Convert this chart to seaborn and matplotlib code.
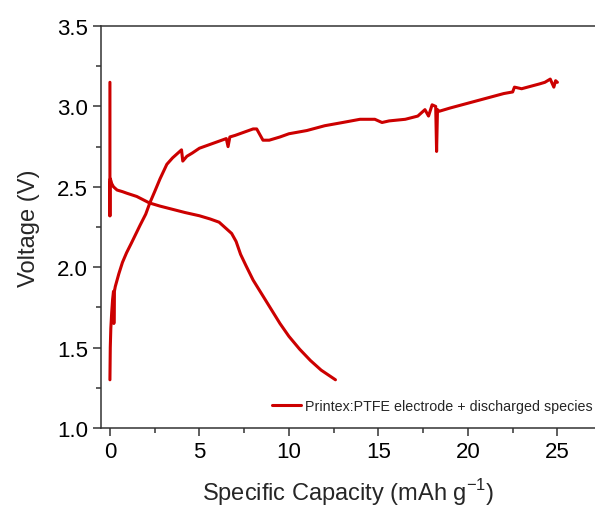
import seaborn as sns
import numpy as np
import pandas as pd
import matplotlib.pyplot as plt
from matplotlib.ticker import MultipleLocator

# discharge curve
discharge_cap = [0.0, 0.0, 0.0, 0.02, 0.05, 0.1, 0.2, 0.4, 0.7, 0.95, 1.5, 2.2, 2.8, 3.5,
                 4.2, 5.0, 5.6, 6.1, 6.5, 6.8, 7.05, 7.3, 7.6, 8.0, 8.5, 9.0, 9.5,
                 10.0, 10.6, 11.2, 11.8, 12.6]
discharge_v = [3.15, 2.32, 2.50, 2.55, 2.54, 2.52, 2.50, 2.48, 2.47, 2.46, 2.44, 2.40, 2.38, 2.36,
               2.34, 2.32, 2.30, 2.28, 2.24, 2.21, 2.16, 2.08, 2.01, 1.92, 1.83, 1.74, 1.65,
               1.57, 1.49, 1.42, 1.36, 1.30]

# charge curve
charge_cap = [0.0, 0.02, 0.05, 0.1, 0.15, 0.2, 0.22, 0.25, 0.3, 0.5, 0.7, 0.93, 1.2, 1.68,
              2.0, 2.23, 2.5, 2.8, 3.18, 3.5, 3.9, 4.0, 4.07, 4.3, 4.6, 5.0, 5.5,
              6.0, 6.5, 6.6, 6.7, 7.0, 7.5, 8.0, 8.2, 8.55, 8.9, 9.5, 10.0, 11.0, 12.0, 13.0,
              13.97, 14.8, 15.2, 15.6, 16.5, 17.2, 17.6, 17.8, 18.0, 18.2, 18.25, 18.3,
              18.4, 19.0, 20.0, 21.0, 22.0, 22.5, 22.6, 23.0, 24.0, 24.3, 24.6, 24.8, 24.9, 25.0]
charge_v = [1.30, 1.50, 1.62, 1.72, 1.80, 1.85, 1.65, 1.85, 1.88, 1.96, 2.03, 2.09, 2.15, 2.26,
            2.33, 2.40, 2.47, 2.55, 2.64, 2.68, 2.72, 2.73, 2.66, 2.69, 2.71, 2.74, 2.76,
            2.78, 2.80, 2.75, 2.81, 2.82, 2.84, 2.86, 2.86, 2.79, 2.79, 2.81, 2.83, 2.85, 2.88, 2.90,
            2.92, 2.92, 2.90, 2.91, 2.92, 2.94, 2.98, 2.94, 3.01, 3.00, 2.72, 2.98,
            2.97, 2.99, 3.02, 3.05, 3.08, 3.09, 3.12, 3.11, 3.14, 3.15, 3.17, 3.12, 3.16, 3.15]

legend_label = "Printex:PTFE electrode + discharged species"

xticks = [0, 5, 10, 15, 20, 25]
yticks = [1.0, 1.5, 2.0, 2.5, 3.0, 3.5]

sns.set_style("ticks")
plt.rcParams['font.family'] = ['Liberation Sans', 'DejaVu Sans']

red = "#cc0000"

fig = plt.figure(figsize=(5.95, 5.1), dpi=100)
ax = fig.add_axes([0.1697, 0.1588, 0.8303, 0.7882])

dis = pd.DataFrame({"cap": discharge_cap, "v": discharge_v})
chg = pd.DataFrame({"cap": charge_cap, "v": charge_v})

sns.lineplot(data=dis, x="cap", y="v", sort=False, estimator=None, color=red,
             linewidth=2.2, ax=ax, label=legend_label)
sns.lineplot(data=chg, x="cap", y="v", sort=False, estimator=None, color=red,
             linewidth=2.2, ax=ax)

ax.set_xlim(-0.5, 27.1)
ax.set_ylim(1.0, 3.5)
ax.set_xticks(xticks)
ax.set_yticks(yticks)
ax.set_yticklabels([f"{t:.1f}" for t in yticks])
ax.xaxis.set_minor_locator(MultipleLocator(2.5))
ax.yaxis.set_minor_locator(MultipleLocator(0.25))

for s in ["left", "bottom", "top"]:
    ax.spines[s].set_color("#333333")
    ax.spines[s].set_linewidth(1.1)
ax.spines["right"].set_visible(False)
ax.tick_params(which="major", direction="out", length=6, width=1.1,
               labelsize=16, color="#333333", labelcolor="black", top=False, right=False)
ax.tick_params(which="minor", direction="out", length=3.5, width=1.1,
               color="#333333", top=False, right=False)

ax.set_xlabel("Specific Capacity (mAh g$^{\\mathregular{-1}}$)", fontsize=17, labelpad=10)
ax.set_ylabel("Voltage (V)", fontsize=17, labelpad=12)

ax.legend(loc="lower left", bbox_to_anchor=(0.335, 0.022), frameon=False, fontsize=10.3,
          handlelength=2.0, handletextpad=0.3, borderaxespad=0)

fig.savefig("out.png", dpi=100)
